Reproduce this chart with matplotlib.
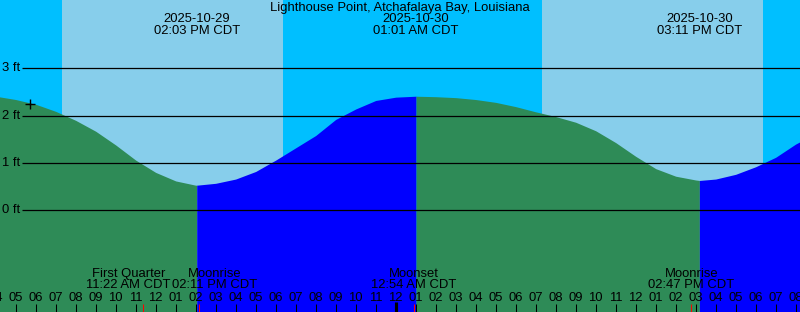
import matplotlib
matplotlib.use("Agg")
import matplotlib.pyplot as plt
import numpy as np
import pandas as pd

plt.rcParams['font.family'] = ['Liberation Sans', 'DejaVu Sans']
plt.rcParams['font.size'] = 9.4

title = "Lighthouse Point, Atchafalaya Bay, Louisiana"
day0 = pd.Timestamp("2025-10-29 00:00")

# tide height (ft) read every hour, starting 2025-10-29 04:00
tide_first_hour = 4
tide_ft = [2.41, 2.34, 2.24, 2.09, 1.90, 1.67, 1.38, 1.06, 0.80, 0.62,
           0.53, 0.57, 0.66, 0.82, 1.06, 1.32, 1.58, 1.92, 2.14, 2.32,
           2.39, 2.41, 2.40, 2.38, 2.34, 2.28, 2.19, 2.08, 1.98, 1.86,
           1.68, 1.43, 1.14, 0.88, 0.72, 0.64, 0.66, 0.76, 0.92, 1.12,
           1.40, 1.62]

# highs and lows
extreme_times = ["2025-10-29 14:03", "2025-10-30 01:01", "2025-10-30 15:11"]
extreme_ft = [0.53, 2.41, 0.63]
extreme_kind = ["low", "high", "low"]

# daylight
sunrise_times = ["2025-10-29 07:19", "2025-10-30 07:19"]
sunset_times = ["2025-10-29 18:22", "2025-10-30 18:21"]

# moon events along the bottom
event_names = ["First Quarter", "Moonrise", "Moonset", "Moonrise"]
event_times = ["2025-10-29 11:22", "2025-10-29 14:11", "2025-10-30 00:54", "2025-10-30 14:47"]

# current time mark
now_time = "2025-10-29 05:43"
now_ft = 2.25

levels_ft = [0, 1, 2, 3]

NIGHT = '#00BFFF'
DAY = '#87CEEB'
FALL = '#2E8B57'
RISE = '#0000FF'

W, H = 800, 312


def hrs(s):
    return (pd.Timestamp(s) - day0) / pd.Timedelta(hours=1)


def fy(py):
    # pixel row -> axes fraction
    return 1 - py / H


def tlabel(s):
    return pd.Timestamp(s).strftime("%I:%M %p CDT")


fig = plt.figure(figsize=(W / 100, H / 100), dpi=100, facecolor=NIGHT)
ax = fig.add_axes([0, 0, 1, 1])
ax.set_axis_off()
x0, x1 = 4.215, 44.215
y0, y1 = -2.149, 4.443
ax.set_xlim(x0, x1)
ax.set_ylim(y0, y1)

# day shading
for a, b in zip(sunrise_times, sunset_times):
    ax.axvspan(hrs(a), hrs(b), color=DAY, lw=0, zorder=0)

# tide curve: hourly readings plus the extremes
t = np.arange(len(tide_ft)) + tide_first_hour
ext_h = np.array([hrs(s) for s in extreme_times])
tt = np.concatenate([t, ext_h])
vv = np.concatenate([tide_ft, extreme_ft])
order = np.argsort(tt)
tt, vv = tt[order], vv[order]

bounds = [tt[0]] + list(ext_h) + [tt[-1]]
kinds = extreme_kind + ["high" if extreme_kind[-1] == "low" else "low"]
for i in range(len(bounds) - 1):
    m = (tt >= bounds[i]) & (tt <= bounds[i + 1])
    col = FALL if kinds[i] == "low" else RISE
    ax.fill_between(tt[m], vv[m], y0, color=col, lw=0, zorder=1)

# level lines
trans_y = ax.get_yaxis_transform()
ax.hlines(levels_ft, 22 / W, 1, transform=trans_y, color='black', lw=0.9, zorder=3)
for lv in levels_ft:
    ax.text(20 / W, lv, "%d ft" % lv, transform=trans_y, ha='right', va='center', zorder=4)

# now mark
ax.plot([hrs(now_time)], [now_ft], marker='+', ms=7, mew=1, color='black', zorder=4)

# title and high/low labels
ax.text(0.5, fy(7.5), title, transform=ax.transAxes, ha='center', va='center')
trans_x = ax.get_xaxis_transform()
for s in extreme_times:
    ax.text(hrs(s), fy(19.5), pd.Timestamp(s).strftime("%Y-%m-%d"),
            transform=trans_x, ha='center', va='center')
    ax.text(hrs(s), fy(31.5), tlabel(s), transform=trans_x, ha='center', va='center')

# hour ticks (labels at both ends run off the picture, as in the original)
hours = np.arange(4, 46)
for h in hours:
    lw = 3 if h % 24 == 0 else 1
    ax.vlines(h, 0, fy(304 if h % 24 else 302), transform=trans_x, color='black', lw=lw * 0.75, zorder=5)
    ax.text(h, fy(298), "%02d" % (h % 12 or 12), transform=trans_x, ha='center', va='center', zorder=5)

# moon events: red ticks and labels pushed apart when they overlap
ev_h = [hrs(s) for s in event_times]
ax.vlines(ev_h, 0, fy(304), transform=trans_x, color='red', lw=0.75, zorder=6)
half = 2.15
pos = list(ev_h)
for i in range(len(pos) - 1):
    gap = pos[i + 1] - pos[i]
    if gap < 2 * half:
        d = (2 * half - gap) / 2
        pos[i] -= d
        pos[i + 1] += d
for p, name, s in zip(pos, event_names, event_times):
    ax.text(p, fy(274), name, transform=trans_x, ha='center', va='center', zorder=5)
    ax.text(p, fy(285.5), tlabel(s), transform=trans_x, ha='center', va='center', zorder=5)

fig.savefig("out.png", dpi=100, facecolor=NIGHT)
